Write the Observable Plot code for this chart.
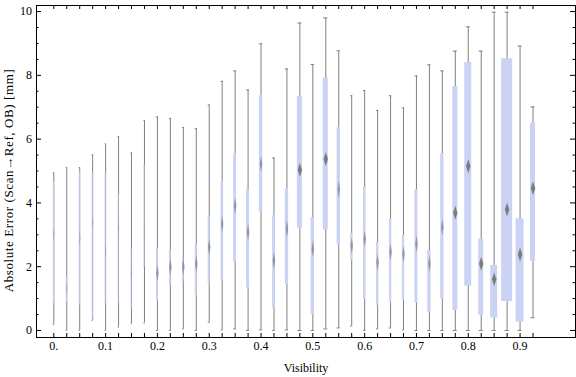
<!DOCTYPE html>
<html>
<head>
<meta charset="utf-8">
<script src="https://cdn.jsdelivr.net/npm/d3@7"></script>
<script src="https://cdn.jsdelivr.net/npm/@observablehq/plot@0.6"></script>
<style>
  html, body { margin: 0; padding: 0; background: #fff; }
  svg { display: block; }
</style>
</head>
<body>
<div id="chart"></div>
<script>
// ---- data ----
const visibility = [0, 0.025, 0.05, 0.075, 0.1, 0.125, 0.15, 0.175, 0.2, 0.225, 0.25, 0.275, 0.3, 0.325, 0.35, 0.375, 0.4, 0.425, 0.45, 0.475, 0.5, 0.525, 0.55, 0.575, 0.6, 0.625, 0.65, 0.675, 0.7, 0.725, 0.75, 0.775, 0.8, 0.825, 0.85, 0.875, 0.9, 0.925];
const whiskerLow  = [0.18, 0.00, 0.00, 0.31, 0.00, 0.10, 0.21, 0.23, 0.00, 0.00, 0.05, 0.00, 0.26, 0.02, 0.05, 0.00, 0.02, 0.00, 0.02, 0.00, 0.00, 0.05, 0.08, 0.14, 0.00, 0.05, 0.08, 0.02, 0.00, 0.00, 0.00, 0.00, 0.00, 0.00, 0.00, 0.00, 0.00, 0.40];
const quartile1   = [0.85, 0.88, 0.79, 0.35, 0.85, 0.85, 0.66, 1.99, 0.92, 1.41, 1.54, 1.10, 1.46, 1.57, 2.14, 1.33, 3.71, 0.70, 1.44, 3.21, 0.49, 3.15, 2.68, 2.20, 0.98, 0.78, 0.86, 0.95, 0.86, 0.57, 0.99, 0.63, 1.39, 0.48, 0.39, 0.91, 0.26, 2.17];
const median      = [3.00, 1.30, 2.90, 3.40, 2.50, 3.20, 1.80, 3.10, 1.80, 1.99, 2.00, 2.09, 2.61, 3.34, 3.90, 3.08, 5.22, 2.19, 3.19, 5.04, 2.56, 5.38, 4.42, 2.66, 2.87, 2.14, 2.46, 2.40, 2.72, 2.09, 3.24, 3.69, 5.15, 2.09, 1.61, 3.79, 2.38, 4.46];
const quartile3   = [4.64, 1.67, 4.98, 4.94, 4.92, 4.26, 2.55, 5.18, 2.57, 2.51, 2.24, 2.70, 3.57, 4.67, 5.54, 4.42, 7.37, 3.60, 4.45, 7.34, 3.54, 7.92, 6.36, 3.04, 4.51, 2.76, 3.51, 2.98, 4.42, 2.51, 5.54, 7.65, 8.40, 2.87, 2.04, 8.52, 3.50, 6.51];
const whiskerHigh = [4.94, 5.11, 5.11, 5.51, 5.85, 6.08, 5.57, 6.58, 6.70, 6.65, 6.36, 6.33, 7.07, 7.81, 8.14, 7.54, 8.99, 5.41, 8.20, 9.64, 8.34, 9.80, 8.77, 7.36, 7.52, 6.90, 7.36, 6.98, 7.98, 8.33, 8.14, 8.76, 9.52, 8.76, 9.98, 9.98, 8.92, 7.01];
// relative box weight (box width grows with it)
const boxWeight   = [1, 1, 1, 1, 1, 1, 1, 1, 2, 1.7, 1.7, 2, 2, 2.3, 3, 3, 3.3, 2.7, 3.3, 5, 3.3, 5, 3.3, 2, 2.3, 2.3, 2.3, 2.3, 3, 3.3, 3.3, 5, 7, 5, 7, 11, 8, 5];

const xTickValues = [0, 0.1, 0.2, 0.3, 0.4, 0.5, 0.6, 0.7, 0.8, 0.9];
const xTickLabels = ["0.", "0.1", "0.2", "0.3", "0.4", "0.5", "0.6", "0.7", "0.8", "0.9"];
const yTickValues = [0, 2, 4, 6, 8, 10];
const yTickLabels = ["0", "2", "4", "6", "8", "10"];
const xTitle = "Visibility";
const yTitle = "Absolute Error (Scan\u2192Ref, OB) [mm]";

// ---- table built from the arrays ----
const rows = visibility.map((v, i) => ({
  v, lo: whiskerLow[i], q1: quartile1[i], med: median[i], q3: quartile3[i], hi: whiskerHigh[i], w: boxWeight[i]
}));

// ---- layout ----
const W = 576, H = 377;
const mt = 5, mb = 40, ml = 36, mr = 1;
const frameW = W - ml - mr, frameH = H - mt - mb;
const xDomain = [-0.0334, 1.007];
const yDomain = [-0.22, 10.19];
const unitPerWeight = 0.00193; // x data units per weight unit

const half = d => d.w * unitPerWeight / 2;
const capHalf = d => Math.min(d.w, 4) * unitPerWeight / 2;

function diamond(hw, hh) {
  return {draw(ctx) { ctx.moveTo(0, -hh); ctx.lineTo(hw, 0); ctx.lineTo(0, hh); ctx.lineTo(-hw, 0); ctx.closePath(); }};
}
const thinDiamond = diamond(0.6, 8);
const midDiamond = diamond(1.3, 8.5);
const wideDiamond = diamond(2.2, 7);

const yMinor = d3.range(0, 10.001, 0.5);
const yMajorSet = new Set(yTickValues);
const xLabelMap = new Map(xTickValues.map((v, i) => [v, xTickLabels[i]]));
const yLabelMap = new Map(yTickValues.map((v, i) => [v, yTickLabels[i]]));

const boxFill = "#cbd3f5";
const whiskerColor = "#808080";

const chart = Plot.plot({
  width: W, height: H,
  marginTop: mt, marginBottom: mb, marginLeft: ml, marginRight: mr,
  style: {fontFamily: "'Liberation Serif', 'Times New Roman', serif", fontSize: "12px", background: "#fff", color: "#000"},
  x: {domain: xDomain, axis: null},
  y: {domain: yDomain, axis: null},
  marks: [
    // whiskers
    Plot.ruleX(rows, {x: "v", y1: "lo", y2: "hi", stroke: whiskerColor, strokeWidth: 1}),
    // caps
    Plot.ruleY(rows, {y: "lo", x1: d => d.v - capHalf(d), x2: d => d.v + capHalf(d), stroke: whiskerColor, strokeWidth: 1}),
    Plot.ruleY(rows, {y: "hi", x1: d => d.v - capHalf(d), x2: d => d.v + capHalf(d), stroke: whiskerColor, strokeWidth: 1}),
    // boxes
    Plot.rect(rows, {x1: d => d.v - half(d), x2: d => d.v + half(d), y1: "q1", y2: "q3", fill: boxFill}),
    // medians
    Plot.dot(rows.filter(d => d.w < 1.5), {x: "v", y: "med", symbol: thinDiamond, r: 3, fill: "#9a9ab0", fillOpacity: 0.7, stroke: "none"}),
    Plot.dot(rows.filter(d => d.w >= 1.5 && d.w < 4), {x: "v", y: "med", symbol: midDiamond, r: 3, fill: "#8c8c98", fillOpacity: 0.85, stroke: "none"}),
    Plot.dot(rows.filter(d => d.w >= 4), {x: "v", y: "med", symbol: wideDiamond, r: 3, fill: "#7c7c7c", stroke: "none"}),
    // frame
    Plot.frame({stroke: "#000", strokeWidth: 1}),
    // x frame ticks (bottom & top) at each box position
    Plot.tickX(visibility, {x: d => d, insetTop: frameH - 4, stroke: "#000"}),
    Plot.tickX(visibility, {x: d => d, insetBottom: frameH - 4, stroke: "#000"}),
    // y frame ticks (left & right)
    Plot.tickY(yMinor.filter(d => !yMajorSet.has(d)), {y: d => d, stroke: "#000", insetRight: frameW - 2.5}),
    Plot.tickY(yTickValues, {y: d => d, stroke: "#000", insetRight: frameW - 5}),
    Plot.tickY(yMinor.filter(d => !yMajorSet.has(d)), {y: d => d, stroke: "#000", insetLeft: frameW - 2.5}),
    Plot.tickY(yTickValues, {y: d => d, stroke: "#000", insetLeft: frameW - 5}),
    // tick labels
    Plot.axisX({ticks: xTickValues, tickFormat: d => xLabelMap.get(d), tickSize: 0, tickPadding: 4, label: null, fontSize: 12}),
    Plot.axisY({ticks: yTickValues, tickFormat: d => yLabelMap.get(d), tickSize: 0, tickPadding: 4.5, label: null, fontSize: 12}),
    // axis titles
    Plot.text([xTitle], {frameAnchor: "bottom", dy: 31, text: d => d, fontSize: 12, textAnchor: "middle", lineAnchor: "middle"}),
    Plot.text([yTitle], {frameAnchor: "left", dx: -28, dy: 9, rotate: -90, text: d => d, fontSize: 13, textAnchor: "middle", lineAnchor: "middle"})
  ]
});
d3.select(chart).selectAll("text").filter(function () { return this.textContent === yTitle; }).style("letter-spacing", "0.6px");
document.getElementById("chart").appendChild(chart);
</script>
</body>
</html>
